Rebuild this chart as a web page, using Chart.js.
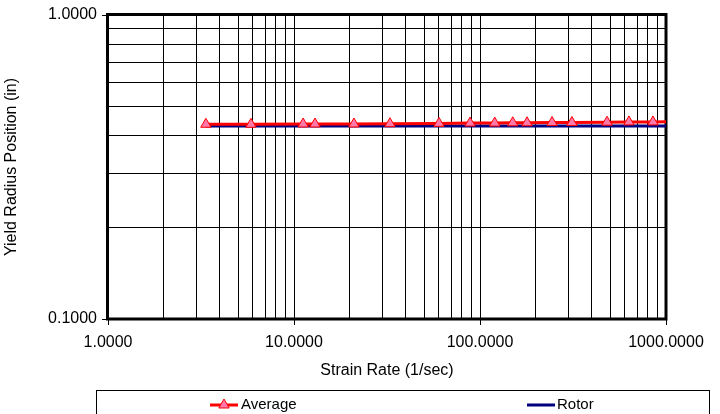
<!DOCTYPE html>
<html>
<head>
<meta charset="utf-8">
<title>Yield Radius Position vs Strain Rate</title>
<script src="https://cdn.jsdelivr.net/npm/chart.js@4/dist/chart.umd.min.js"></script>
<style>
  body { margin: 0; background: #fff; }
  canvas { display: block; }
</style>
</head>
<body>
<canvas id="chart" width="720" height="414"></canvas>
<script>
const strainRates = [3.36, 5.87, 11.2, 12.97, 21.0, 32.8, 60.2, 88.4, 120, 150, 179, 244, 312, 482, 632, 851, 1120];
const averageRadius = [0.437, 0.437, 0.438, 0.438, 0.438, 0.439, 0.440, 0.441, 0.441, 0.442, 0.442, 0.443, 0.443, 0.444, 0.445, 0.445, 0.446];
const rotorRadius = [0.431, 0.431, 0.431, 0.431, 0.431, 0.431, 0.431, 0.431, 0.431, 0.431, 0.431, 0.431, 0.431, 0.431, 0.431, 0.431, 0.431];

const xMajorTicks = [1, 10, 100, 1000];
const yMajorTicks = [0.1, 1];
const minorSteps = [2, 3, 4, 5, 6, 7, 8, 9];

const FONT = "'Liberation Sans', Arial, sans-serif";
const PINK = "#ff78aa";

function buildLogTicks(majors) {
  const values = [];
  majors.forEach((major, index) => {
    values.push(major);
    if (index < majors.length - 1) {
      minorSteps.forEach((step) => values.push(Number((major * step).toPrecision(4))));
    }
  });
  return values.map((value) => ({ value }));
}

function isMajor(value, majors) {
  return majors.some((major) => Math.abs(major - value) < major * 1e-6);
}

function toPoints(xs, ys) {
  return xs.map((x, i) => ({ x, y: ys[i] }));
}

const frame = {
  id: "frame",
  beforeDatasetsDraw(chart) {
    const { ctx, chartArea } = chart;
    ctx.save();
    ctx.strokeStyle = "#000";
    ctx.lineWidth = 3;
    ctx.strokeRect(chartArea.left - 0.5, chartArea.top - 0.5, chartArea.right - chartArea.left + 0.5, chartArea.bottom - chartArea.top + 0.5);
    ctx.restore();
  }
};

const legendBox = {
  id: "legendBox",
  afterDraw(chart) {
    const { ctx } = chart;
    const y = 405;
    ctx.save();
    ctx.strokeStyle = "#000";
    ctx.lineWidth = 1;
    ctx.strokeRect(96.5, 390.5, 613, 40);

    ctx.lineWidth = 3;
    ctx.strokeStyle = "#ff0000";
    ctx.beginPath();
    ctx.moveTo(210, y);
    ctx.lineTo(238, y);
    ctx.stroke();
    ctx.fillStyle = PINK;
    ctx.strokeStyle = "#ff0000";
    ctx.lineWidth = 1;
    Chart.helpers.drawPoint(ctx, { pointStyle: "triangle", radius: 6, rotation: 0, borderWidth: 1 }, 224, y);

    ctx.lineWidth = 3;
    ctx.strokeStyle = "#000080";
    ctx.beginPath();
    ctx.moveTo(527, y);
    ctx.lineTo(555, y);
    ctx.stroke();

    ctx.fillStyle = "#000";
    ctx.font = "15px " + FONT;
    ctx.textBaseline = "middle";
    ctx.textAlign = "left";
    ctx.fillText("Average", 241, y);
    ctx.fillText("Rotor", 557, y);
    ctx.restore();
  }
};

new Chart(document.getElementById("chart"), {
  type: "line",
  data: {
    datasets: [
      {
        label: "Average",
        data: toPoints(strainRates, averageRadius),
        borderColor: "#ff0000",
        borderWidth: 3,
        backgroundColor: PINK,
        pointStyle: "triangle",
        pointRadius: 6,
        pointBorderColor: "#ff0000",
        pointBackgroundColor: PINK,
        pointBorderWidth: 1,
        tension: 0,
        clip: 0
      },
      {
        label: "Rotor",
        data: toPoints(strainRates, rotorRadius),
        borderColor: "#000080",
        borderWidth: 3,
        pointRadius: 0,
        tension: 0,
        clip: 0
      }
    ]
  },
  options: {
    responsive: false,
    animation: false,
    events: [],
    layout: { padding: { top: 15, right: 54, bottom: 34, left: 0 } },
    plugins: {
      legend: { display: false },
      tooltip: { enabled: false }
    },
    scales: {
      x: {
        type: "logarithmic",
        position: "bottom",
        min: 1,
        max: 1000,
        afterBuildTicks: (scale) => { scale.ticks = buildLogTicks(xMajorTicks); },
        afterFit: (scale) => { scale.height = 61; },
        border: { display: false },
        grid: {
          color: "#000",
          lineWidth: 1,
          drawTicks: true,
          tickLength: 6,
          tickColor: (ctx) => (ctx.tick && isMajor(ctx.tick.value, xMajorTicks) ? "#000" : "rgba(0,0,0,0)")
        },
        ticks: {
          autoSkip: false,
          maxRotation: 0,
          padding: 8,
          color: "#000",
          font: { family: FONT, size: 16 },
          callback: (value) => (isMajor(value, xMajorTicks) ? value.toFixed(4) : "")
        },
        title: {
          display: true,
          text: "Strain Rate (1/sec)",
          color: "#000",
          padding: 0,
          font: { family: FONT, size: 16 }
        }
      },
      y: {
        type: "logarithmic",
        position: "left",
        min: 0.1,
        max: 1,
        afterBuildTicks: (scale) => { scale.ticks = buildLogTicks(yMajorTicks); },
        afterFit: (scale) => { scale.width = 108; },
        border: { display: false },
        grid: {
          color: "#000",
          lineWidth: 1,
          drawTicks: true,
          tickLength: 6,
          tickColor: (ctx) => (ctx.tick && isMajor(ctx.tick.value, yMajorTicks) ? "#000" : "rgba(0,0,0,0)")
        },
        ticks: {
          autoSkip: false,
          padding: 5,
          color: "#000",
          font: { family: FONT, size: 16 },
          callback: (value) => (isMajor(value, yMajorTicks) ? value.toFixed(4) : "")
        },
        title: {
          display: true,
          text: "Yield Radius Position (in)",
          color: "#000",
          padding: { top: 2, bottom: 0 },
          font: { family: FONT, size: 16 }
        }
      }
    }
  },
  plugins: [frame, legendBox]
});
</script>
</body>
</html>
